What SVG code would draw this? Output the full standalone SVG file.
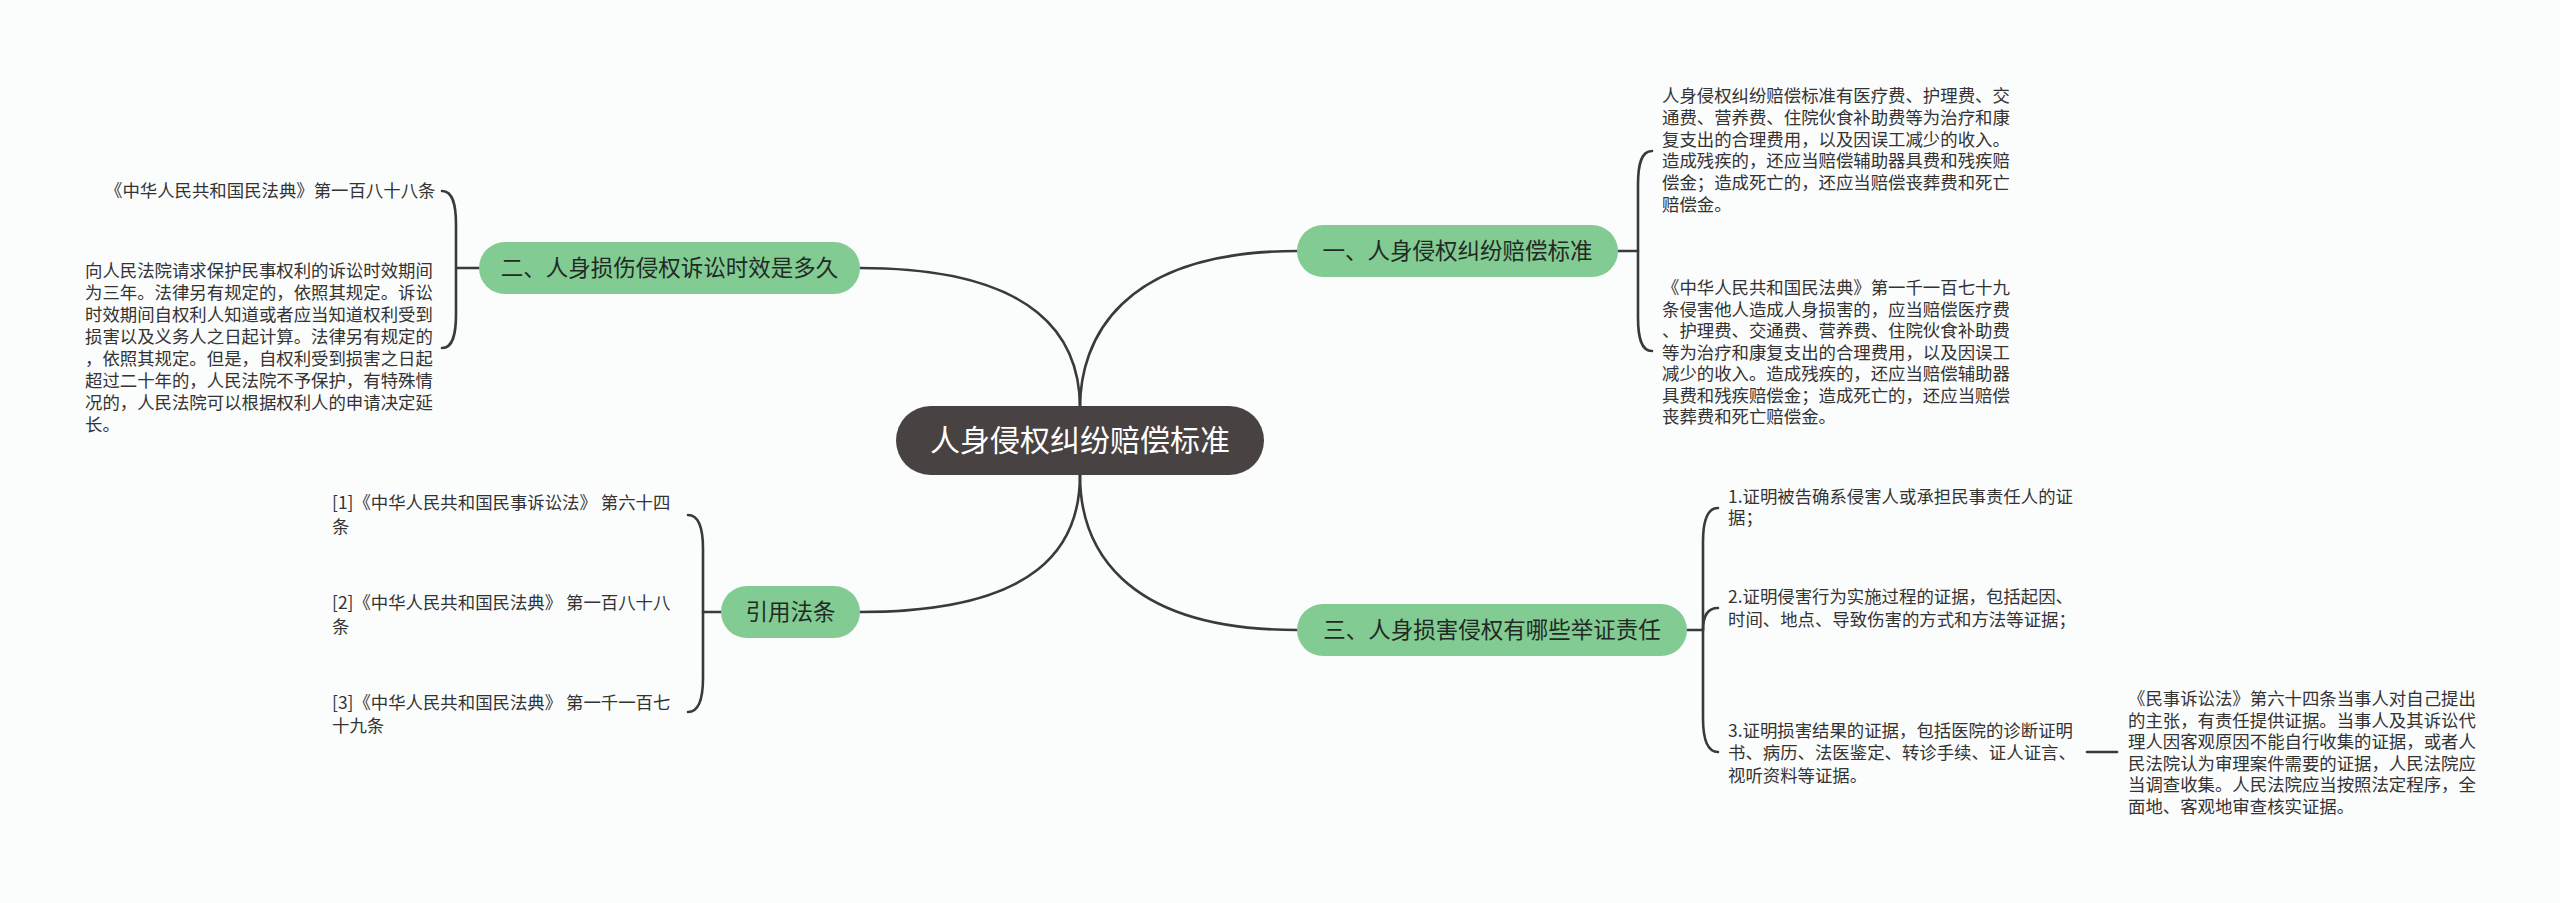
<svg xmlns="http://www.w3.org/2000/svg" width="2560" height="903" viewBox="0 0 2560 903">
<style>
.bg{fill:#fbfcfc}
.ln{fill:none;stroke:#3a3a3a;stroke-width:2.6;stroke-linecap:round}
.root{fill:#484242}
.br{fill:#82cb93}
.rt{font-family:"Noto Sans CJK SC","Noto Sans",sans-serif;font-size:30px;fill:#ffffff;text-anchor:middle}
.bt{font-family:"Noto Sans CJK SC","Noto Sans",sans-serif;font-size:22.5px;fill:#222a24;text-anchor:middle}
.tx{font-family:"Noto Sans CJK SC","Noto Sans",sans-serif;font-size:17.4px;fill:#333333}
</style>
<rect class="bg" x="0" y="0" width="2560" height="903"/>
<g id="connectors">
<path class="ln" d="M1080 408 C1080 340 1120 251 1297 251"/>
<path class="ln" d="M1080 408 C1080 340 1040 268 860 268"/>
<path class="ln" d="M1080 475 C1080 545 1040 612 860 612"/>
<path class="ln" d="M1080 475 C1080 545 1120 630 1297 630"/>
<path class="ln" d="M1618 251 L1638 251"/>
<path class="ln" d="M1652 151 C1641 151 1638 165 1638 185 L1638 317 C1638 337 1641 351 1652 351"/>
<path class="ln" d="M479 268 L457 268"/>
<path class="ln" d="M442 191 C453 191 456 205 456 225 L456 314 C456 334 453 348 442 348"/>
<path class="ln" d="M721 612 L703 612"/>
<path class="ln" d="M688 515 C699 515 703 529 703 549 L703 678 C703 698 699 712 688 712"/>
<path class="ln" d="M1687 630 L1703 630"/>
<path class="ln" d="M1718 508 C1707 508 1703 522 1703 542 L1703 718 C1703 738 1707 752 1718 752"/>
<path class="ln" d="M1703 630 C1703 616 1707 608 1718 608"/>
<path class="ln" d="M2087 752 L2117 752"/>
</g>
<g id="root">
<rect class="root" x="896" y="406" width="368" height="69" rx="34.5"/>
<text class="rt" x="1080" y="451">人身侵权纠纷赔偿标准</text>
</g>
<g id="b1">
<rect class="br" x="1297" y="225" width="321" height="52" rx="26"/>
<text class="bt" x="1457.5" y="259">一、人身侵权纠纷赔偿标准</text>
</g>
<g id="b2">
<rect class="br" x="479" y="242" width="381" height="52" rx="26"/>
<text class="bt" x="669.5" y="276">二、人身损伤侵权诉讼时效是多久</text>
</g>
<g id="b3">
<rect class="br" x="721" y="586" width="139" height="52" rx="26"/>
<text class="bt" x="790.5" y="620">引用法条</text>
</g>
<g id="b4">
<rect class="br" x="1297" y="604" width="390" height="52" rx="26"/>
<text class="bt" x="1492" y="638">三、人身损害侵权有哪些举证责任</text>
</g>
<g id="b1-t1">
<text class="tx" x="1662"><tspan x="1662" y="102">人身侵权纠纷赔偿标准有医疗费、护理费、交</tspan><tspan x="1662" y="123.8">通费、营养费、住院伙食补助费等为治疗和康</tspan><tspan x="1662" y="145.6">复支出的合理费用，以及因误工减少的收入。</tspan><tspan x="1662" y="167.4">造成残疾的，还应当赔偿辅助器具费和残疾赔</tspan><tspan x="1662" y="189.2">偿金；造成死亡的，还应当赔偿丧葬费和死亡</tspan><tspan x="1662" y="211">赔偿金。</tspan></text>
</g>
<g id="b1-t2">
<text class="tx" x="1662"><tspan x="1662" y="294">《中华人民共和国民法典》第一千一百七十九</tspan><tspan x="1662" y="315.5">条侵害他人造成人身损害的，应当赔偿医疗费</tspan><tspan x="1662" y="337">、护理费、交通费、营养费、住院伙食补助费</tspan><tspan x="1662" y="358.5">等为治疗和康复支出的合理费用，以及因误工</tspan><tspan x="1662" y="380">减少的收入。造成残疾的，还应当赔偿辅助器</tspan><tspan x="1662" y="401.5">具费和残疾赔偿金；造成死亡的，还应当赔偿</tspan><tspan x="1662" y="423">丧葬费和死亡赔偿金。</tspan></text>
</g>
<g id="b2-t1">
<text class="tx" x="105" y="197">《中华人民共和国民法典》第一百八十八条</text>
</g>
<g id="b2-t2">
<text class="tx" x="85"><tspan x="85" y="277">向人民法院请求保护民事权利的诉讼时效期间</tspan><tspan x="85" y="299">为三年。法律另有规定的，依照其规定。诉讼</tspan><tspan x="85" y="321">时效期间自权利人知道或者应当知道权利受到</tspan><tspan x="85" y="343">损害以及义务人之日起计算。法律另有规定的</tspan><tspan x="85" y="365">，依照其规定。但是，自权利受到损害之日起</tspan><tspan x="85" y="387">超过二十年的，人民法院不予保护，有特殊情</tspan><tspan x="85" y="409">况的，人民法院可以根据权利人的申请决定延</tspan><tspan x="85" y="431">长。</tspan></text>
</g>
<g id="b3-t1">
<text class="tx" x="332"><tspan x="332" y="509">[1]《中华人民共和国民事诉讼法》 第六十四</tspan><tspan x="332" y="532.5">条</tspan></text>
</g>
<g id="b3-t2">
<text class="tx" x="332"><tspan x="332" y="609">[2]《中华人民共和国民法典》 第一百八十八</tspan><tspan x="332" y="632.5">条</tspan></text>
</g>
<g id="b3-t3">
<text class="tx" x="332"><tspan x="332" y="709">[3]《中华人民共和国民法典》 第一千一百七</tspan><tspan x="332" y="731.5">十九条</tspan></text>
</g>
<g id="b4-t1">
<text class="tx" x="1728"><tspan x="1728" y="503">1.证明被告确系侵害人或承担民事责任人的证</tspan><tspan x="1728" y="524">据；</tspan></text>
</g>
<g id="b4-t2">
<text class="tx" x="1728"><tspan x="1728" y="603">2.证明侵害行为实施过程的证据，包括起因、</tspan><tspan x="1728" y="626">时间、地点、导致伤害的方式和方法等证据；</tspan></text>
</g>
<g id="b4-t3">
<text class="tx" x="1728"><tspan x="1728" y="736.5">3.证明损害结果的证据，包括医院的诊断证明</tspan><tspan x="1728" y="759">书、病历、法医鉴定、转诊手续、证人证言、</tspan><tspan x="1728" y="781.5">视听资料等证据。</tspan></text>
</g>
<g id="b4-t3-c1">
<text class="tx" x="2128"><tspan x="2128" y="705">《民事诉讼法》第六十四条当事人对自己提出</tspan><tspan x="2128" y="726.5">的主张，有责任提供证据。当事人及其诉讼代</tspan><tspan x="2128" y="748">理人因客观原因不能自行收集的证据，或者人</tspan><tspan x="2128" y="769.5">民法院认为审理案件需要的证据，人民法院应</tspan><tspan x="2128" y="791">当调查收集。人民法院应当按照法定程序，全</tspan><tspan x="2128" y="812.5">面地、客观地审查核实证据。</tspan></text>
</g>
</svg>
